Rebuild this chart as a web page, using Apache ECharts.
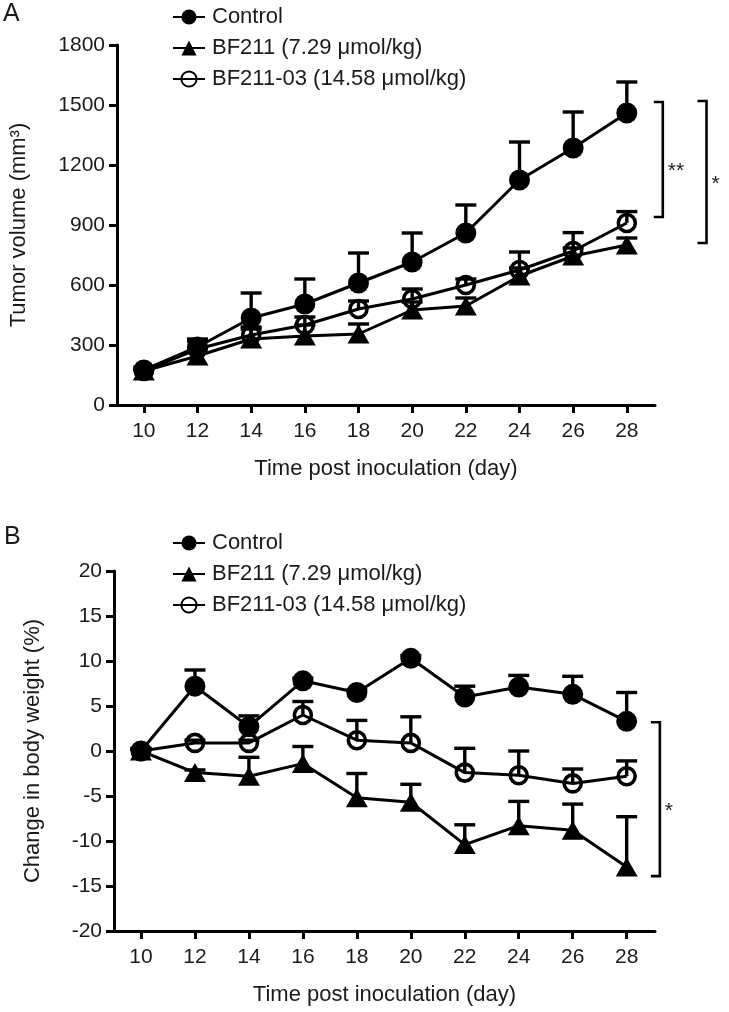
<!DOCTYPE html>
<html><head><meta charset="utf-8">
<script src="https://cdn.jsdelivr.net/npm/echarts@6/dist/echarts.min.js"></script>
<style>html,body{margin:0;padding:0;background:#fff}#c{width:729px;height:1012px}</style>
</head><body><div id="c"></div>
<script>
const days = [10, 12, 14, 16, 18, 20, 22, 24, 26, 28];
const names = ['Control', 'BF211 (7.29 μmol/kg)', 'BF211-03 (14.58 μmol/kg)'];

// Panel A: tumor volume (mm3)
const tumorControl    = [175, 290, 435, 505, 610, 715, 860, 1125, 1285, 1460];
const tumorControlErr = [15, 40, 125, 125, 150, 145, 140, 190, 180, 155];
const tumorBF211      = [170, 245, 330, 345, 355, 475, 495, 645, 745, 800];
const tumorBF211Err   = [10, 40, 50, 55, 50, 40, 40, 40, 40, 35];
const tumorBF03       = [170, 280, 350, 400, 480, 530, 600, 675, 770, 910];
const tumorBF03Err    = [10, 40, 40, 40, 40, 50, 30, 90, 92, 57];

// Panel B: change in body weight (%)
const bwControl    = [0, 7.2, 2.7, 7.8, 6.5, 10.3, 6.0, 7.1, 6.3, 3.3];
const bwControlErr = [0.3, 1.8, 1.2, 0.3, 0.3, 0.3, 1.2, 1.3, 2.0, 3.2];
const bwBF211      = [0, -2.4, -2.8, -1.4, -5.2, -5.7, -10.4, -8.3, -8.8, -12.9];
const bwBF211Err   = [0.2, 0.3, 2.1, 1.9, 2.7, 2.0, 2.2, 2.7, 2.9, 5.6];
const bwBF03       = [0, 0.9, 0.9, 4.0, 1.2, 0.9, -2.4, -2.7, -3.6, -2.8];
const bwBF03Err    = [0.2, 0.3, 0.3, 1.5, 2.2, 2.9, 2.7, 2.7, 1.6, 1.7];

// significance brackets: [day position, top value, bottom value]
const bracketA = [[29.34, 1515, 940], [30.97, 1520, 810]];
const bracketALabels = ['**', '*'];
const bracketB = [[29.23, 3.2, -13.9]];
const bracketBLabels = ['*'];

const FONT = 'Liberation Sans, Arial, sans-serif';
const TXT = '#1a1a1a';

function lineSeries(name, idx, vals, sym, z) {
  const s = {
    type: 'line', name: name, xAxisIndex: idx, yAxisIndex: idx, z: z,
    data: days.map((d, i) => [d, vals[i]]),
    lineStyle: {color: '#000', width: 3}
  };
  if (sym === 'circle') { s.symbol = 'circle'; s.symbolSize = 21; s.itemStyle = {color: '#000'}; }
  if (sym === 'triangle') { s.symbol = 'triangle'; s.symbolSize = [22, 19]; s.itemStyle = {color: '#000'}; }
  if (sym === 'open') { s.symbol = 'circle'; s.symbolSize = 17; s.itemStyle = {color: 'rgba(255,255,255,0)', borderColor: '#000', borderWidth: 3.6}; }
  return s;
}
function errSeries(idx, vals, errs) {
  return {
    type: 'custom', xAxisIndex: idx, yAxisIndex: idx, z: 3, silent: true, clip: false,
    data: days.map((d, i) => [d, vals[i], vals[i] + errs[i]]),
    encode: {x: 0, y: [1, 2]},
    renderItem: function (params, api) {
      const p0 = api.coord([api.value(0), api.value(1)]);
      const p1 = api.coord([api.value(0), api.value(2)]);
      const hw = 10.5;
      return {type: 'group', children: [
        {type: 'line', shape: {x1: p0[0], y1: p0[1], x2: p1[0], y2: p1[1]}, style: {stroke: '#000', lineWidth: 3.4}},
        {type: 'line', shape: {x1: p1[0] - hw, y1: p1[1], x2: p1[0] + hw, y2: p1[1]}, style: {stroke: '#000', lineWidth: 3.4}}
      ]};
    }
  };
}
function bracketSeries(idx, data, labels) {
  return {
    type: 'custom', xAxisIndex: idx, yAxisIndex: idx, z: 4, silent: true, clip: false,
    data: data, encode: {x: 0, y: [1, 2]},
    renderItem: function (params, api) {
      const t = api.coord([api.value(0), api.value(1)]);
      const b = api.coord([api.value(0), api.value(2)]);
      const arm = 9;
      return {type: 'group', children: [
        {type: 'polyline', shape: {points: [[t[0] - arm, t[1]], [t[0], t[1]], [b[0], b[1]], [b[0] - arm, b[1]]]},
         style: {stroke: '#000', lineWidth: 2.6, fill: null}},
        {type: 'text', x: t[0] + 5, y: (t[1] + b[1]) / 2 + 12,
         style: {text: labels[params.dataIndex], fontSize: 21, fontFamily: FONT, fill: '#222', align: 'left', verticalAlign: 'middle'}}
      ]};
    }
  };
}

const xAxisBase = {
  type: 'value', min: 9, max: 29.05,
  name: 'Time post inoculation (day)', nameLocation: 'middle', nameGap: 53,
  nameTextStyle: {fontSize: 22, fontFamily: FONT, color: TXT},
  axisLine: {show: true, onZero: false, lineStyle: {color: '#000', width: 3}},
  axisTick: {show: true, length: 8, customValues: days, lineStyle: {color: '#000', width: 3}},
  axisLabel: {customValues: days, fontSize: 21, fontFamily: FONT, color: TXT, margin: 16},
  splitLine: {show: false}
};
function yAxisBase(idx, min, max, interval, name, gap) {
  return {
    type: 'value', gridIndex: idx, min: min, max: max, interval: interval,
    name: name, nameLocation: 'middle', nameGap: gap, nameRotate: 90,
    nameTextStyle: {fontSize: 22, fontFamily: FONT, color: TXT},
    axisLine: {show: true, onZero: false, lineStyle: {color: '#000', width: 3}},
    axisTick: {show: true, length: 8, lineStyle: {color: '#000', width: 3}},
    axisLabel: {fontSize: 21, fontFamily: FONT, color: TXT, margin: 12, formatter: v => String(v)},
    splitLine: {show: false}
  };
}
const legendBase = {
  orient: 'vertical', left: 167, itemWidth: 32, itemHeight: 19, itemGap: 9,
  textStyle: {fontSize: 22, fontFamily: FONT, color: TXT, padding: [0, 0, 0, 2]},
  data: names, selectedMode: false
};

const option = {
  animation: false,
  backgroundColor: '#fff',
  grid: [
    {left: 114, top: 45, width: 541, height: 360},
    {left: 114, top: 571, width: 541, height: 360}
  ],
  legend: [
    Object.assign({}, legendBase, {top: 1}),
    Object.assign({}, legendBase, {top: 527})
  ],
  xAxis: [
    Object.assign({}, xAxisBase, {gridIndex: 0}),
    Object.assign({}, xAxisBase, {gridIndex: 1})
  ],
  yAxis: [
    yAxisBase(0, 0, 1800, 300, 'Tumor volume (mm³)', 87),
    yAxisBase(1, -20, 20, 5, 'Change in body weight (%)', 70)
  ],
  graphic: [
    {type: 'text', left: 3, top: 2, style: {text: 'A', fontSize: 25, fontFamily: FONT, fill: TXT}},
    {type: 'text', left: 4, top: 525, style: {text: 'B', fontSize: 25, fontFamily: FONT, fill: TXT}}
  ],
  series: [
    errSeries(0, tumorBF03, tumorBF03Err),
    errSeries(0, tumorBF211, tumorBF211Err),
    errSeries(0, tumorControl, tumorControlErr),
    lineSeries(names[2], 0, tumorBF03, 'open', 5),
    lineSeries(names[1], 0, tumorBF211, 'triangle', 6),
    lineSeries(names[0], 0, tumorControl, 'circle', 7),
    bracketSeries(0, bracketA, bracketALabels),
    errSeries(1, bwBF03, bwBF03Err),
    errSeries(1, bwBF211, bwBF211Err),
    errSeries(1, bwControl, bwControlErr),
    lineSeries(names[2], 1, bwBF03, 'open', 5),
    lineSeries(names[1], 1, bwBF211, 'triangle', 6),
    lineSeries(names[0], 1, bwControl, 'circle', 7),
    bracketSeries(1, bracketB, bracketBLabels)
  ]
};
const chart = echarts.init(document.getElementById('c'), null, {renderer: 'canvas'});
chart.setOption(option);
</script>
</body></html>
